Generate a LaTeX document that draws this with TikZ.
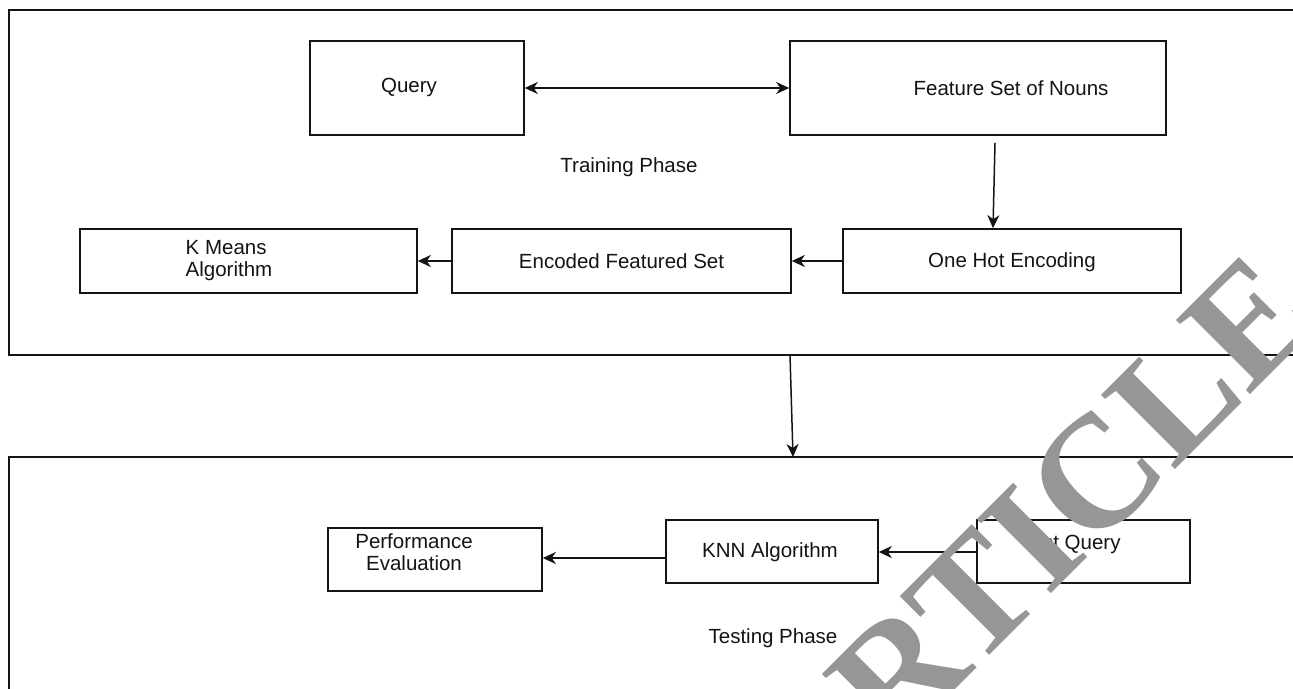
\documentclass[tikz,border=0pt]{standalone}
\usepackage{fontspec}
\setmainfont{Liberation Sans}
\newfontfamily\wmfont{Liberation Serif}
\usetikzlibrary{arrows.meta}
\definecolor{wmgray}{RGB}{150,150,150}
\definecolor{ink}{RGB}{20,20,20}
\tikzset{
  box/.style={draw=ink, line width=1.6pt, inner sep=0pt, fill=none},
  txt/.style={inner sep=0pt, text=ink, font=\fontsize{20.5}{22}\selectfont, align=center},
  conn/.style={draw=ink, line width=1.5pt, -{Stealth[length=13pt,width=12pt,inset=4pt]}},
  biconn/.style={draw=ink, line width=1.5pt, {Stealth[length=13pt,width=12pt,inset=4pt]}-{Stealth[length=13pt,width=12pt,inset=4pt]}},
  phase/.style={draw=ink, line width=1.6pt},
  wmark/.style={inner sep=0pt, text=wmgray, font=\wmfont\bfseries\fontsize{160}{160}\selectfont}
}
\begin{document}
\begin{tikzpicture}[x=1pt,y=-1pt]
\useasboundingbox (0,0) rectangle (1293,688);
\clip (0,0) rectangle (1293,688);
\fill[white] (0,0) rectangle (1293,688);
% phase frames
\draw[phase] (1310,10) -- (9,10) -- (9,355) -- (1310,355);
\draw[phase] (1310,457) -- (9,457) -- (9,700);
\coordinate (trainbot) at (790,355);
\coordinate (testtop) at (793,457);
% training nodes
\node[box, minimum width=214pt, minimum height=94pt] (query) at (417,88) {};
\node[txt] (queryt) at (409,87) {Query};
\node[box, minimum width=376pt, minimum height=94pt] (fsn) at (978,88) {};
\node[txt] (fsnt) at ([xshift=33pt]fsn.center) {Feature Set of Nouns};
\node[txt] (trainlbl) at (629,167) {Training Phase};
\node[box, minimum width=338pt, minimum height=64pt] (ohe) at (1012,261) {};
\node[txt] (ohet) at (1012,262) {One Hot Encoding};
\node[box, minimum width=339pt, minimum height=64pt] (efs) at (621.5,261) {};
\node[txt] (efst) at (efs.center) {Encoded Featured Set};
\node[box, minimum width=337pt, minimum height=64pt] (kma) at (248.5,261) {};
\node[txt, align=left] (kmat) at (229,261) {K Means\\Algorithm};
% testing nodes
\node[box, minimum width=214pt, minimum height=63pt] (pe) at (435,559.5) {};
\node[txt] (pet) at (414,552) {Performance\\Evaluation};
\node[box, minimum width=212pt, minimum height=63pt] (knn) at (772,551.5) {};
\node[txt] (knnt) at (770,552) {KNN Algorithm};
\node[box, minimum width=213pt, minimum height=63pt] (tq) at (1083.5,551.5) {};
\node[txt] (tqt) at (1071,544) {Test Query};
\node[txt] (testlbl) at (773,638) {Testing Phase};
% connectors
\draw[biconn] (query.east) -- (fsn.west);
\draw[conn] ([xshift=17pt,yshift=-7pt]fsn.south) -- ([xshift=-19pt]ohe.north);
\draw[conn] (ohe.west) -- (efs.east);
\draw[conn] (efs.west) -- (kma.east);
\draw[conn] (trainbot) -- (testtop);
\draw[conn] (tq.west |- 0,552) -- (knn.east |- 0,552);
\draw[conn] (knn.west |- 0,558) -- (pe.east |- 0,558);
% watermark
\node[wmark, rotate=45, anchor=base east] (wm) at (1324.5,320.5) {ARTICLE};
\end{tikzpicture}
\end{document}
